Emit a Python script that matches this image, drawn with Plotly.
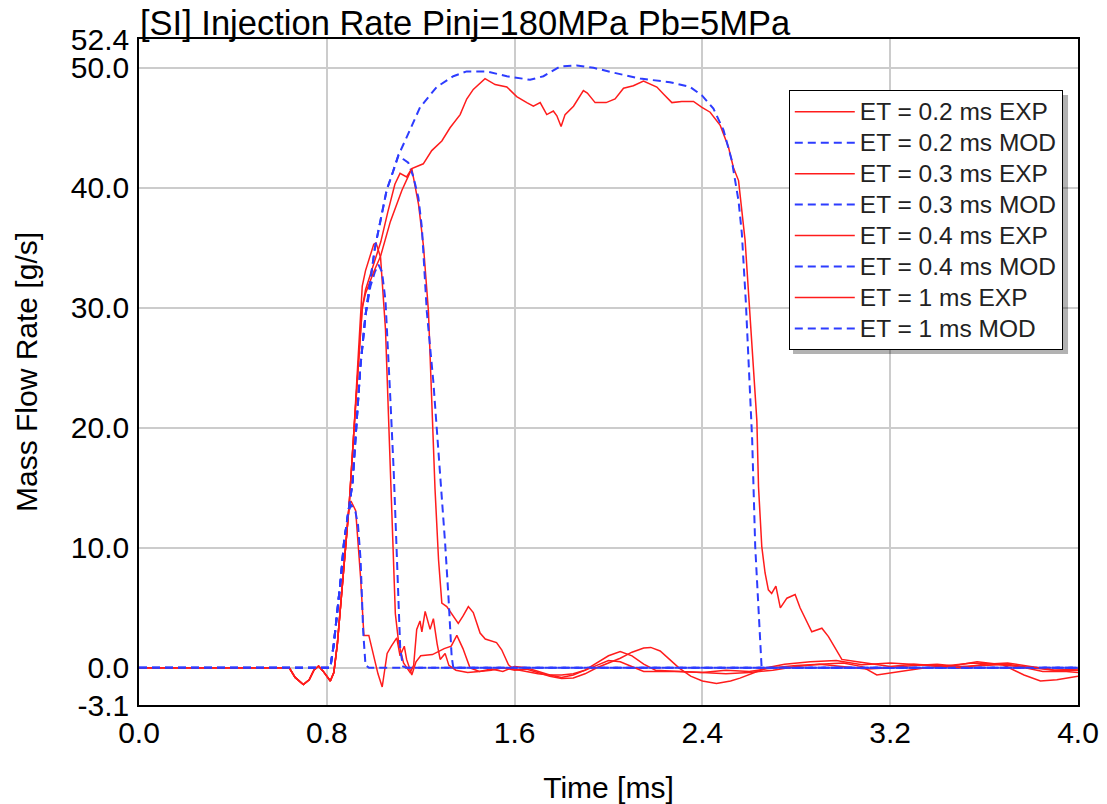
import plotly.graph_objects as go

# ---------------- data ----------------
# shared EXP pre-rise (ms, g/s)
pre_t = [0.0, 0.64, 0.665, 0.70, 0.725, 0.745, 0.765, 0.785, 0.815, 0.83, 0.845, 0.865, 0.88, 0.895]
pre_v = [0.0, 0.0, -0.8, -1.4, -1.0, -0.2, 0.15, -0.3, -1.1, -0.4, 2.0, 6.5, 10.0, 13.5]

exp02_t = pre_t + [0.903, 0.923, 0.944, 0.958, 0.979, 1.0, 1.018, 1.036, 1.057, 1.075, 1.098, 1.112, 1.13, 1.14,
                   1.162, 1.18, 1.2, 1.25, 1.3, 1.33, 1.354, 1.38, 1.41, 1.45, 1.5, 1.55, 1.6, 1.65, 1.7, 1.75,
                   1.8, 1.85, 1.9, 1.95, 2.0, 2.05, 2.1, 2.15, 2.2, 2.3, 2.4, 2.5, 2.6, 2.7, 2.8, 2.9, 3.0, 3.1,
                   3.2, 3.3, 3.4, 3.5, 3.6, 3.7, 3.8, 3.9, 4.0]
exp02_v = pre_v + [13.9, 13.1, 7.5, 2.7, 2.7, 0.9, -0.5, -1.6, 1.2, 1.8, 2.5, 1.0, 1.8, 0.7,
                   -0.6, 0.5, 1.0, 1.1, 1.6, 1.8, 2.7, 1.6, 0.0, -0.3, -0.1, -0.3, 0.1, 0.0, -0.3, -0.6,
                   -0.8, -0.6, -0.2, 0.4, 1.0, 1.35, 1.0, 0.3, -0.2, -0.3, -0.4, -0.2, -0.3, 0.0, 0.2, 0.3, 0.1, -0.1,
                   0.0, 0.2, 0.3, 0.1, 0.2, 0.3, 0.0, -0.2, -0.1]

exp03_t = pre_t + [0.916, 0.937, 0.951, 0.965, 0.986, 1.0, 1.01, 1.029, 1.05, 1.064, 1.078, 1.092, 1.106, 1.127,
                   1.155, 1.17, 1.183, 1.197, 1.205, 1.219, 1.24, 1.254, 1.27, 1.283, 1.304, 1.32, 1.35, 1.4,
                   1.45, 1.5, 1.55, 1.6, 1.65, 1.7, 1.75, 1.8, 1.85, 1.9, 1.95, 2.0, 2.05, 2.1, 2.15, 2.18,
                   2.22, 2.26, 2.3, 2.35, 2.4, 2.46, 2.52, 2.56, 2.62, 2.674, 2.75, 2.86, 2.97, 3.08, 3.2,
                   3.31, 3.45, 3.57, 3.68, 3.77, 3.84, 3.91, 4.0]
exp03_v = pre_v + [19.9, 26.8, 31.8, 33.1, 34.5, 35.3, 35.4, 34.2, 28.2, 19.9, 11.9, 4.5, 2.1, 0.4,
                   -0.4, 0.2, 3.2, 3.9, 3.0, 4.7, 3.2, 4.1, 2.0, 0.7, 1.2, 0.2, -0.2, -0.4,
                   -0.3, -0.2, 0.0, -0.2, -0.1, -0.4, -0.7, -0.9, -0.85, -0.5, 0.0, 0.4, 0.8, 1.3, 1.65, 1.7,
                   1.4, 0.7, 0.0, -0.7, -1.1, -1.3, -1.1, -0.86, -0.4, 0.0, 0.3, 0.5, 0.6, 0.25, 0.4,
                   0.25, 0.1, 0.5, 0.25, -0.6, -1.1, -1.0, -0.7]

exp04_t = pre_t + [0.916, 0.937, 0.951, 0.965, 1.0, 1.029, 1.071, 1.12, 1.162, 1.191, 1.212, 1.233, 1.247,
                   1.261, 1.276, 1.29, 1.311, 1.332, 1.36, 1.38, 1.403, 1.424, 1.453, 1.475, 1.495, 1.523,
                   1.545, 1.574, 1.595, 1.65, 1.7, 1.75, 1.8, 1.85, 1.9, 1.95, 2.0, 2.05, 2.1, 2.15, 2.2,
                   2.3, 2.4, 2.5, 2.6, 2.7, 2.8, 2.9, 3.0, 3.08, 3.143, 3.256, 3.35, 3.45, 3.55, 3.65,
                   3.75, 3.85, 3.95, 4.0]
exp04_v = pre_v + [19.9, 26.5, 30.0, 31.2, 33.0, 34.3, 37.2, 39.8, 41.6, 38.6, 35.1, 29.7, 22.3,
                   14.9, 9.0, 5.4, 5.1, 4.5, 3.7, 4.3, 5.1, 4.6, 2.9, 2.4, 2.3, 2.1,
                   1.5, 0.25, -0.1, -0.3, -0.5, -0.6, -0.6, -0.5, -0.2, 0.2, 0.6, 0.5, 0.1, -0.3, -0.3,
                   -0.3, -0.4, -0.5, -0.4, -0.2, 0.1, 0.3, 0.4, 0.1, -0.6, -0.3, 0.0, 0.2, 0.4, 0.3,
                   0.1, -0.3, -0.3, -0.4]

exp10_t = pre_t + [0.916, 0.937, 0.951, 0.965, 0.99, 1.03, 1.06, 1.09, 1.112, 1.14, 1.162, 1.211, 1.247,
                   1.29, 1.325, 1.368, 1.396, 1.424, 1.474, 1.517, 1.567, 1.609, 1.652, 1.68, 1.709, 1.737,
                   1.765, 1.78, 1.798, 1.815, 1.851, 1.893, 1.91, 1.943, 1.99, 2.028, 2.064, 2.106, 2.149,
                   2.206, 2.235, 2.27, 2.312, 2.362, 2.398, 2.433, 2.476, 2.511, 2.532, 2.554, 2.582,
                   2.6, 2.615, 2.632, 2.639, 2.653, 2.667, 2.681, 2.695, 2.713, 2.732, 2.76, 2.795, 2.816,
                   2.866, 2.909, 2.937, 2.994, 3.06, 3.1, 3.2, 3.3, 3.4, 3.5, 3.6, 3.7, 3.8, 3.9, 4.0]
exp10_v = pre_v + [19.9, 26.5, 30.0, 31.5, 33.0, 35.5, 38.0, 40.3, 41.2, 40.9, 41.6, 42.0, 43.1,
                   43.9, 45.0, 46.1, 47.4, 48.2, 49.1, 48.6, 48.4, 47.6, 47.1, 46.8, 47.1, 46.1,
                   46.4, 46.0, 45.1, 46.1, 46.8, 48.1, 47.9, 47.1, 47.1, 47.4, 48.3, 48.5, 48.9,
                   48.4, 47.8, 47.1, 47.2, 47.2, 46.7, 46.3, 45.2, 43.4, 41.7, 40.6, 35.6,
                   30.0, 25.0, 20.6, 15.1, 10.1, 7.9, 6.5, 6.2, 6.8, 5.0, 5.8, 6.1, 5.0,
                   3.0, 3.3, 2.6, 0.7, 0.5, 0.4, 0.1, 0.3, 0.2, 0.0, 0.3, 0.4, 0.1, -0.2, -0.2]

# MOD series
mod_rise_t = [0.0, 0.815, 0.83, 0.845, 0.86, 0.873, 0.89]
mod_rise_v = [0.0, 0.0, 2.0, 4.5, 7.5, 10.4, 12.8]

mod02_t = mod_rise_t + [0.903, 0.922, 0.933, 0.944, 0.955, 0.965, 0.98, 4.0]
mod02_v = mod_rise_v + [13.6, 13.0, 11.9, 9.0, 3.0, 0.2, 0.0, 0.0]

mod03_t = mod_rise_t + [0.91, 0.923, 0.944, 0.965, 0.986, 1.005, 1.02, 1.035, 1.05, 1.071, 1.085, 1.099,
                        1.113, 1.125, 1.14, 4.0]
mod03_v = mod_rise_v + [15.5, 19.3, 25.3, 29.4, 31.8, 33.0, 33.6, 33.0, 30.6, 22.3, 16.4, 9.0,
                        1.5, 0.1, 0.0, 0.0]

mod04_t = mod_rise_t + [0.91, 0.923, 0.944, 0.965, 0.986, 1.005, 1.029, 1.055, 1.083, 1.105, 1.125, 1.147,
                        1.169, 1.19, 1.205, 1.226, 1.254, 1.283, 1.304, 1.318, 1.332, 1.339, 4.0]
mod04_v = mod_rise_v + [15.5, 19.3, 25.3, 29.4, 32.5, 35.0, 37.3, 39.8, 41.4, 42.7, 42.4, 42.1,
                        40.9, 39.2, 36.7, 29.7, 23.8, 16.4, 10.4, 6.0, 0.9, 0.0, 0.0]

mod10_t = mod_rise_t + [0.91, 0.923, 0.944, 0.965, 0.986, 1.005, 1.029, 1.055, 1.083, 1.105, 1.14, 1.197,
                        1.268, 1.339, 1.396, 1.481, 1.567, 1.666, 1.723, 1.794, 1.865, 1.936, 2.021, 2.135,
                        2.262, 2.348, 2.398, 2.447, 2.49, 2.525, 2.554, 2.568, 2.585, 2.6, 2.612, 2.625,
                        2.64, 2.652, 2.66, 4.0]
mod10_v = mod_rise_v + [15.5, 19.3, 25.3, 29.4, 32.5, 35.0, 37.3, 39.8, 41.4, 42.7, 44.2, 46.7,
                        48.4, 49.3, 49.7, 49.7, 49.3, 49.0, 49.3, 50.1, 50.2, 50.0, 49.6, 49.1,
                        48.8, 48.4, 47.7, 46.6, 44.8, 42.3, 38.9, 36.2, 30.5, 24.5, 19.0, 10.1,
                        4.0, 0.1, 0.0, 0.0]

series = [
    ("ET = 0.2 ms EXP", exp02_t, exp02_v, "exp"),
    ("ET = 0.2 ms MOD", mod02_t, mod02_v, "mod"),
    ("ET = 0.3 ms EXP", exp03_t, exp03_v, "exp"),
    ("ET = 0.3 ms MOD", mod03_t, mod03_v, "mod"),
    ("ET = 0.4 ms EXP", exp04_t, exp04_v, "exp"),
    ("ET = 0.4 ms MOD", mod04_t, mod04_v, "mod"),
    ("ET = 1 ms EXP", exp10_t, exp10_v, "exp"),
    ("ET = 1 ms MOD", mod10_t, mod10_v, "mod"),
]

x_ticks = [0.0, 0.8, 1.6, 2.4, 3.2, 4.0]
x_ticktext = ["0.0", "0.8", "1.6", "2.4", "3.2", "4.0"]
y_ticks = [-3.1, 0.0, 10.0, 20.0, 30.0, 40.0, 50.0, 52.4]
y_ticktext = ["-3.1", "0.0", "10.0", "20.0", "30.0", "40.0", "50.0", "52.4"]

TITLE = "[SI] Injection Rate Pinj=180MPa Pb=5MPa"
FONT = "Liberation Sans, Arial, sans-serif"
RED = "rgb(255,28,28)"
BLUE = "rgb(45,60,255)"

fig = go.Figure()
for name, t, v, kind in series:
    if kind == "exp":
        line = dict(color=RED, width=1.5)
    else:
        line = dict(color=BLUE, width=2, dash="8px,5px")
    label = "<span style='font-size:24.5px'>" + name + "</span>"
    fig.add_trace(go.Scatter(x=t, y=v, mode="lines", name=label, line=line))

# legend drop shadow (paper coordinates of the plot area)
fig.add_shape(type="rect", xref="paper", yref="paper",
              x0=0.6965, x1=0.9894, y0=0.527, y1=0.916,
              fillcolor="rgba(0,0,0,0.3)", line=dict(width=0), layer="above")

fig.update_layout(
    width=1107, height=804,
    margin=dict(l=139, r=29, t=39, b=99, autoexpand=False),
    paper_bgcolor="white", plot_bgcolor="white",
    font=dict(family=FONT, color="black", size=30),
    showlegend=True,
    legend=dict(
        x=0.692, y=0.923, xanchor="left", yanchor="top",
        bgcolor="white", bordercolor="black", borderwidth=1,
        font=dict(family=FONT, size=21.5, color="#222222"),
        itemwidth=60, tracegroupgap=0,
    ),
    annotations=[dict(
        text=TITLE, xref="paper", yref="paper", x=0, y=1,
        xanchor="left", yanchor="bottom", showarrow=False,
        font=dict(family=FONT, size=34.5, color="black"), xshift=-1, yshift=-5,
    )],
)

fig.update_xaxes(
    range=[0, 4.0], tickvals=x_ticks, ticktext=x_ticktext,
    showgrid=True, gridcolor="#cccccc", gridwidth=1.5,
    showline=True, linecolor="black", linewidth=1.5, mirror=True,
    zeroline=False, ticks="", ticklabelstandoff=0, automargin=False,
    title=dict(text="Time [ms]", font=dict(size=30), standoff=32),
)
fig.update_yaxes(
    range=[-3.1, 52.4], tickvals=y_ticks, ticktext=y_ticktext,
    showgrid=True, gridcolor="#cccccc", gridwidth=1.5,
    showline=True, linecolor="black", linewidth=1.5, mirror=True,
    zeroline=False, ticks="", ticklabelstandoff=2, automargin=False,
    title=dict(text="Mass Flow Rate [g/s]", font=dict(size=30), standoff=24),
)

fig.write_html("out.html", config={"displayModeBar": False},
               post_script="document.body.style.margin='0px';")
